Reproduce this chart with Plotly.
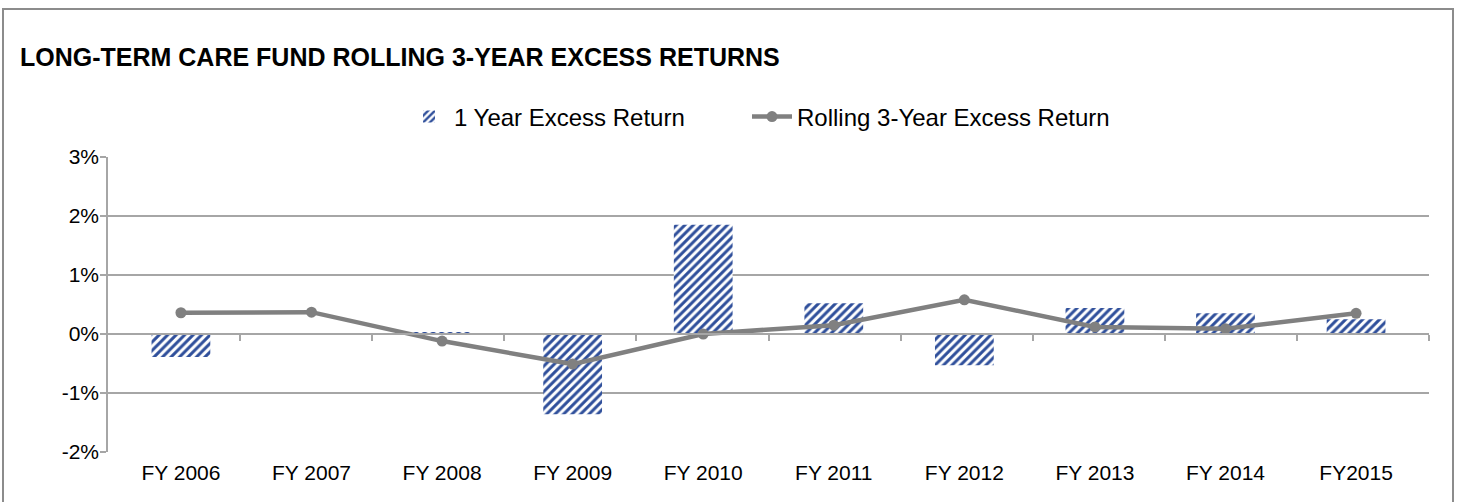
import plotly.graph_objects as go

categories = ["FY 2006", "FY 2007", "FY 2008", "FY 2009", "FY 2010",
              "FY 2011", "FY 2012", "FY 2013", "FY 2014", "FY2015"]
one_year_excess = [-0.39, 0.0, 0.02, -1.36, 1.85, 0.52, -0.53, 0.44, 0.35, 0.25]
rolling_3yr_excess = [0.36, 0.37, -0.12, -0.51, 0.0, 0.15, 0.58, 0.12, 0.09, 0.35]
y_ticks = [-2, -1, 0, 1, 2, 3]
y_tick_labels = ["-2%", "-1%", "0%", "1%", "2%", "3%"]

W, H = 1457, 502
L, R, T, B = 108, 1429, 157, 452
FONT = "Liberation Sans, Arial, sans-serif"
GRID = "#A6A6A6"
BLUE = "#2F4F9B"
LINEC = "#808080"

fig = go.Figure()
fig.add_trace(go.Bar(
    x=categories, y=one_year_excess, name="1 Year Excess Return",
    marker=dict(color="white", line=dict(width=0),
                pattern=dict(shape="/", fgcolor=BLUE, bgcolor="white",
                             size=6, solidity=0.5, fillmode="replace")),
    hoverinfo="skip", legend="legend",
))
fig.add_trace(go.Scatter(
    x=categories, y=rolling_3yr_excess, name="Rolling 3-Year Excess Return",
    mode="lines+markers", line=dict(color=LINEC, width=4.5),
    marker=dict(color=LINEC, size=11), legend="legend2",
))
# helper trace so the zero-axis (xaxis2) is drawn
fig.add_trace(go.Scatter(
    x=list(range(len(categories))), y=rolling_3yr_excess, xaxis="x2",
    mode="lines", opacity=0, showlegend=False, hoverinfo="skip",
))

pw, ph = R - L, B - T
legend_common = dict(orientation="h", xanchor="left", yanchor="middle",
                     y=(B - 117) / ph, itemwidth=40, tracegroupgap=0,
                     font=dict(family=FONT, size=24, color="black"))
fig.update_layout(
    width=W, height=H,
    margin=dict(l=L, r=W - R, t=T, b=H - B, pad=0),
    paper_bgcolor="white", plot_bgcolor="white",
    font=dict(family=FONT, size=21, color="black"),
    bargap=0.55,
    title=dict(text="<b>LONG-TERM CARE FUND ROLLING 3-YEAR EXCESS RETURNS</b>",
               x=20 / W, xanchor="left", xref="container",
               y=1 - 57 / H, yanchor="middle", yref="container",
               font=dict(family=FONT, size=25, color="black")),
    legend=dict(x=(404 - L) / pw, **legend_common),
    legend2=dict(x=(747 - L) / pw, **legend_common),
    xaxis=dict(type="category", showgrid=False, showline=False, ticks="",
               zeroline=False, tickfont=dict(size=21), ticklabelstandoff=6),
    xaxis2=dict(overlaying="x", anchor="free", position=2 / 5,
                range=[-0.5, len(categories) - 0.5],
                tickvals=[i + 0.5 for i in range(len(categories))],
                showticklabels=False, ticks="outside", ticklen=6,
                tickcolor=GRID, tickwidth=1.5, showline=True,
                linecolor=GRID, linewidth=1.5, showgrid=False, zeroline=False),
    yaxis=dict(range=[-2, 3], tickvals=y_ticks, ticktext=y_tick_labels,
               showgrid=True, gridcolor=GRID, gridwidth=1.5,
               zeroline=False, showline=True, linecolor=GRID, linewidth=1.5,
               ticks="outside", ticklen=6, tickcolor=GRID, tickwidth=1.5,
               tickfont=dict(size=21), ticklabelstandoff=-3),
    shapes=[dict(type="rect", xref="paper", yref="paper",
                 x0=(3 - L) / pw, x1=(1453 - L) / pw,
                 y0=(B - 515) / ph, y1=(B - 9) / ph,
                 line=dict(color="#8C8C8C", width=2), fillcolor="rgba(0,0,0,0)",
                 layer="below")],
)

fig.write_html("out.html", config={"displayModeBar": False},
               post_script="document.body.style.margin='0';"
                           "document.documentElement.style.overflow='hidden';")
